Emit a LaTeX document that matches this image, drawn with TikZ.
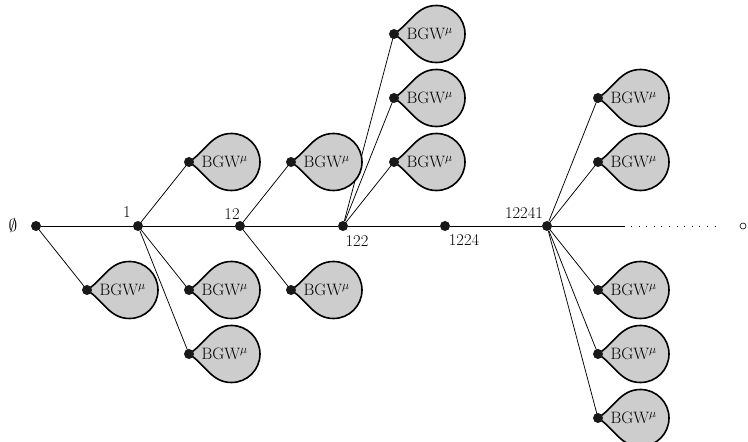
\documentclass[tikz,border=0pt]{standalone}
\usepackage{amssymb}
\definecolor{dropgray}{RGB}{205,205,205}
\begin{document}
\begin{tikzpicture}[x=1pt,y=1pt,
  every node/.style={font=\fontsize{16.5}{19}\selectfont},
  dot/.style={circle,fill=black!90,inner sep=0pt,minimum size=10pt},
  edge/.style={line width=0.75pt},
  lab/.style={inner sep=0pt},
  bgw/.pic={
    \draw[line width=1.6pt,fill=dropgray] (0,0) to[out=33,in=180] (42.5,28.5)
      arc[start angle=90,end angle=-90,radius=28.5] to[out=180,in=-33] cycle;
    \node[anchor=base west,inner sep=0pt] at (12.5,-5.5) {BGW$^{\mu}$};
    \node[dot] (-tip) at (0,0) {};
  }]
\useasboundingbox (0,0) rectangle (748,442);
% spine
\node[dot] (v0) at (36,216) {};
\node[dot] (v1) at (138,216) {};
\node[dot] (v2) at (240,216) {};
\node[dot] (v3) at (343,216) {};
\node[dot] (v4) at (445,216) {};
\node[dot] (v5) at (547,216) {};
\coordinate (sEnd) at (625,216);
\coordinate (dStart) at (631,216);
\coordinate (dEnd) at (722,216);
\node[circle,draw,line width=0.6pt,inner sep=0pt,minimum size=6pt] (inf) at (743,216) {};
\draw[edge] (v0) -- (v1) -- (v2) -- (v3) -- (v4) -- (v5) -- (sEnd);
\draw[edge,dash pattern=on 0.9pt off 6.7pt] (dStart) -- (dEnd);
% labels
\node[lab] (l0) at (13,216) {$\emptyset$};
\node[lab] (l1) at (127,230) {1};
\node[lab] (l2) at (232,228) {12};
\node[lab] (l3) at (357,201) {122};
\node[lab] (l4) at (464,202) {1224};
\node[lab] (l5) at (524,229) {12241};
% drop tips
\coordinate (a)  at (87,152);
\coordinate (b1) at (189,280);
\coordinate (b2) at (189,152);
\coordinate (b3) at (189,88);
\coordinate (c1) at (291,280);
\coordinate (c2) at (291,152);
\coordinate (e1) at (394,408);
\coordinate (e2) at (394,344);
\coordinate (e3) at (394,280);
\coordinate (f1) at (598,344);
\coordinate (f2) at (598,280);
\coordinate (f3) at (598,152);
\coordinate (f4) at (598,88);
\coordinate (f5) at (598,24);
% edges
\draw[edge] (v0) -- (a);
\foreach \t in {b1,b2,b3} \draw[edge] (v1) -- (\t);
\foreach \t in {c1,c2} \draw[edge] (v2) -- (\t);
\foreach \t in {e1,e2,e3} \draw[edge] (v3) -- (\t);
\foreach \t in {f1,f2,f3,f4,f5} \draw[edge] (v5) -- (\t);
% drops
\foreach \t in {a,b1,b2,b3,c1,c2,e1,e2,e3,f1,f2,f3,f4,f5}
  \pic (p\t) at (\t) {bgw};
\end{tikzpicture}
\end{document}
